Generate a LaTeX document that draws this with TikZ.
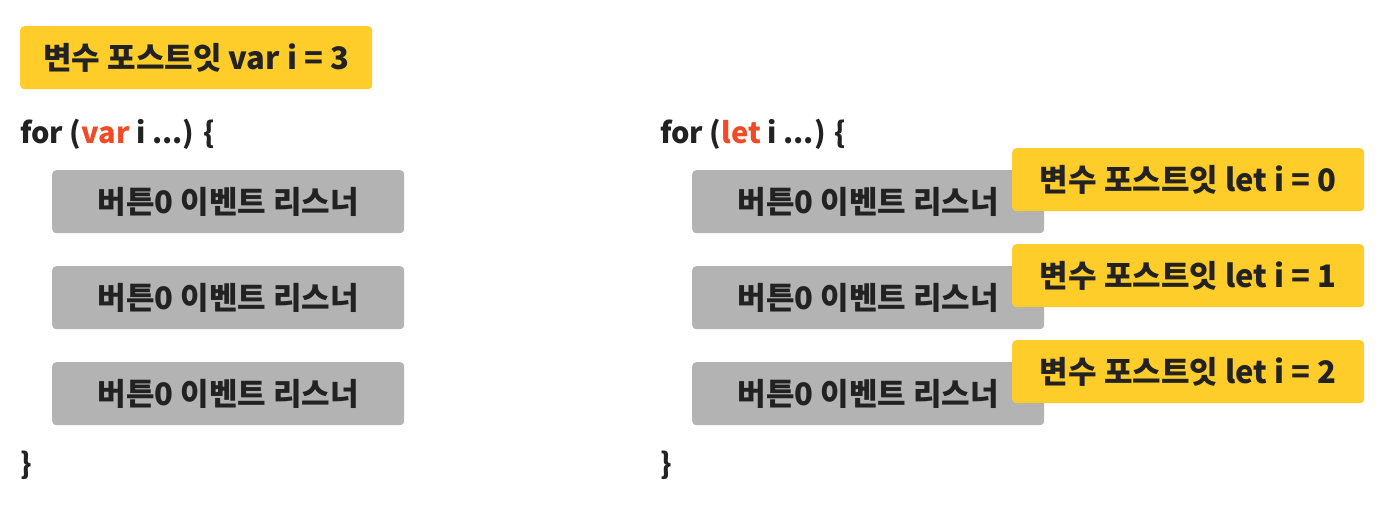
\documentclass[tikz,border=0pt]{standalone}
\usepackage{fontspec}
\usepackage{xcolor}
\newfontfamily\kr{Noto Sans CJK KR}
\definecolor{postit}{HTML}{FFCD29}
\definecolor{listenergray}{HTML}{B3B3B3}
\definecolor{ink}{HTML}{222222}
\definecolor{keyred}{HTML}{F24A25}

\begin{document}
\begin{tikzpicture}[x=1pt, y=-1pt]

    % Styly uzlu
    \tikzstyle{postit} = [rectangle, rounded corners=4pt, fill=postit, anchor=north west, minimum width=352pt, minimum height=63pt, inner sep=0pt, text=ink, font=\kr\bfseries\fontsize{31}{34}\selectfont]
    \tikzstyle{listener} = [rectangle, rounded corners=4pt, fill=listenergray, anchor=north west, minimum width=352pt, minimum height=63pt, inner sep=0pt, text=ink, font=\kr\bfseries\fontsize{31}{34}\selectfont]
    \tikzstyle{code} = [inner sep=0pt, anchor=base west, text=ink, font=\kr\bfseries\fontsize{29}{32}\selectfont]

    \useasboundingbox (0,0) rectangle (1386,516);

    % Levy sloupec: var
    \node (postvar) [postit] at (20,26) {변수 포스트잇 var i = 3};
    \node (forvar) [code] at (20,143) {for (\textcolor{keyred}{var} i ...) \{};
    \node (btnvara) [listener] at (52,170) {버튼0 이벤트 리스너};
    \node (btnvarb) [listener] at (52,266) {버튼0 이벤트 리스너};
    \node (btnvarc) [listener] at (52,362) {버튼0 이벤트 리스너};
    \node (endvar) [code] at (20,474) {\}};

    % Pravy sloupec: let
    \node (forlet) [code] at (660,143) {for (\textcolor{keyred}{let} i ...) \{};
    \node (btnleta) [listener] at (692,170) {버튼0 이벤트 리스너};
    \node (btnletb) [listener] at (692,266) {버튼0 이벤트 리스너};
    \node (btnletc) [listener] at (692,362) {버튼0 이벤트 리스너};
    \node (endlet) [code] at (660,474) {\}};

    % Postity pro kazde kolo
    \node (postleta) [postit] at (1012,148) {변수 포스트잇 let i = 0};
    \node (postletb) [postit] at (1012,244) {변수 포스트잇 let i = 1};
    \node (postletc) [postit] at (1012,340) {변수 포스트잇 let i = 2};

\end{tikzpicture}
\end{document}
